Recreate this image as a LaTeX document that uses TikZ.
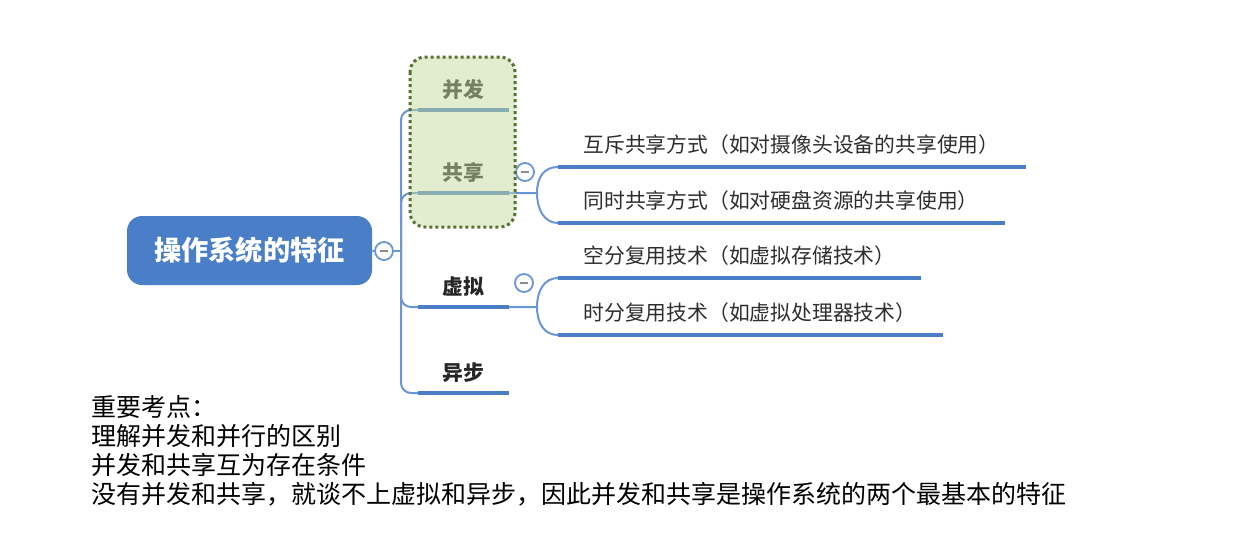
\documentclass[tikz,border=0pt]{standalone}
\usepackage{fontspec}
\setmainfont{Noto Sans CJK SC}
\usetikzlibrary{positioning}
\definecolor{xblue}{RGB}{74,127,199}
\definecolor{lblue}{RGB}{104,150,214}
\definecolor{gfill}{RGB}{197,219,159}
\definecolor{gdot}{RGB}{88,112,52}
\tikzset{>=latex}

\begin{document}
\begin{tikzpicture}[x=0.5pt,y=-0.5pt,
	rootbox/.style={fill=xblue, rounded corners=7.5pt, minimum width=122.5pt, minimum height=34.5pt, text=white, font=\fontsize{13.6pt}{16pt}\selectfont\bfseries},
	topic/.style={minimum width=45pt, minimum height=20pt, inner sep=0pt, anchor=south, text=black!85, font=\fontsize{10.4pt}{12pt}\selectfont\bfseries},
	sub/.style={anchor=south west, minimum height=22pt, inner sep=0pt, text width=#1, align=left, text=black!82, font=\fontsize{10.4pt}{12pt}\selectfont},
	uline/.style={xblue, line width=2pt},
	branch/.style={lblue, line width=1pt},
	fold/.style={circle, draw=lblue, line width=0.9pt, fill=white, minimum size=9pt, inner sep=0pt, path picture={\draw[black!45, line width=0.8pt] ([xshift=-2pt]path picture bounding box.center) -- ([xshift=2pt]path picture bounding box.center);}},
	note/.style={anchor=base west, inner sep=0pt, font=\fontsize{12.5pt}{15pt}\selectfont}]
		\useasboundingbox (0,0) rectangle (1236,548);
		% root and fold
		\node[rootbox] (root) at (249.5,250.5) {操作系统的特征};
		\node[fold] (c0) at (384,251) {};
		\coordinate (tr) at (401,251);
		
		% main topics
		\node[topic] (bf) at (463.5,110) {并发};
		\node[topic] (gx) at (463.5,193) {共享};
		\node[topic] (xn) at (463.5,307) {虚拟};
		\node[topic] (yb) at (463.5,393) {异步};
		
		% sub topics
		\node[sub=233.5pt] (s1) at (558,167) {\hspace*{12.5pt}互斥共享方式（如对摄像头设备的共享使用）};
		\node[sub=223pt] (s2) at (558,223) {\hspace*{12.5pt}同时共享方式（如对硬盘资源的共享使用）};
		\node[sub=181pt] (s3) at (558,278) {\hspace*{12.5pt}空分复用技术（如虚拟存储技术）};
		\node[sub=192pt] (s4) at (558,335) {\hspace*{12.5pt}时分复用技术（如虚拟处理器技术）};
		
		\draw[branch] (root) -- (c0);
		\draw[branch] (c0) -- (tr);
		\foreach \t in {bf,gx,xn,yb}
			\draw[branch, rounded corners=5pt] (tr) |- (\t.south west);
		
		\coordinate (j1) at (537,193);
		\coordinate (j2) at (537,307);
		\draw[branch] (gx.south east) -- (j1) .. controls +(0,-16) and +(-14,0) .. (s1.south west);
		\draw[branch] (j1) .. controls +(0,16) and +(-14,0) .. (s2.south west);
		\draw[branch] (xn.south east) -- (j2) .. controls +(0,-16) and +(-14,0) .. (s3.south west);
		\draw[branch] (j2) .. controls +(0,16) and +(-14,0) .. (s4.south west);
		
		\foreach \t in {bf,gx,xn,yb,s1,s2,s3,s4}
			\draw[uline] (\t.south west) -- (\t.south east);
		
		\node[fold] (c1) at (525,172) {};
		\node[fold] (c2) at (524,283) {};
		
		% dotted group box
		\draw[gdot, fill=gfill, fill opacity=0.5, line width=1.5pt, dash pattern=on 1.5pt off 1.5pt, rounded corners=7.5pt] (410,57) rectangle (515,227);
		
		% notes
		\foreach \txt [count=\i] in {重要考点：,理解并发和并行的区别,并发和共享互为存在条件,没有并发和共享，就谈不上虚拟和异步，因此并发和共享是操作系统的两个最基本的特征}
			\node[note] (n\i) at (91,{416+29.3*(\i-1)}) {\txt};
\end{tikzpicture}
\end{document}
